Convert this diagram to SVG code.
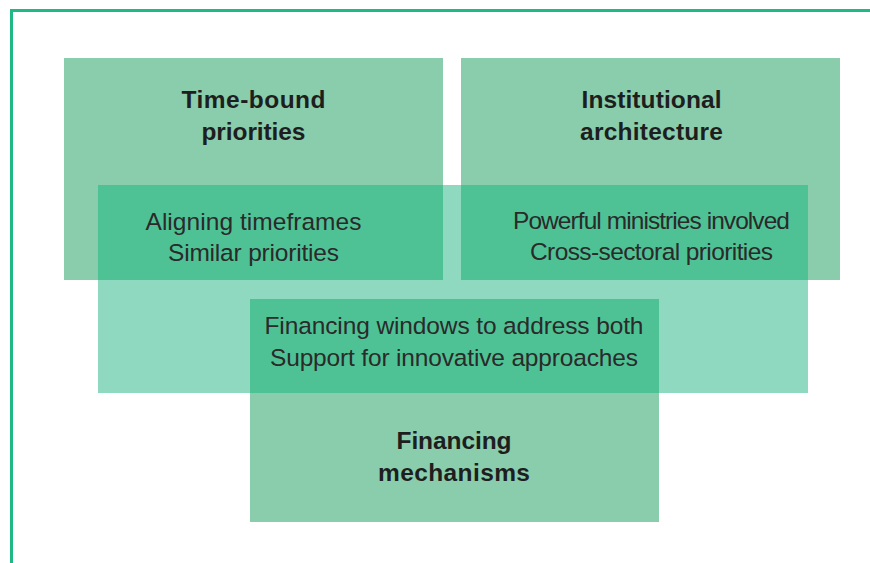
<svg xmlns="http://www.w3.org/2000/svg" width="870" height="563" viewBox="0 0 870 563">
<style>
.box{fill:#89cdac}
.mid{fill:#8ed9bf}
.ov{fill:#4fc295}
.t{font-family:"Liberation Sans",Arial,sans-serif;font-size:24.5px;fill:#2a2a2a;text-anchor:middle}
.b{font-family:"Liberation Sans",Arial,sans-serif;font-size:24.5px;font-weight:bold;fill:#1e1e1e;text-anchor:middle}
</style>
<rect width="870" height="563" fill="#ffffff"/>
<path d="M11.5 563 V10.5 H870" fill="none" stroke="#1fba84" stroke-width="3"/>
<g id="connectors"></g>
<g id="time-bound">
<rect class="box" x="64" y="58" width="379" height="222"/>
<text class="b" x="253.5" y="108" textLength="144" lengthAdjust="spacing">Time-bound</text>
<text class="b" x="253.5" y="140" textLength="104" lengthAdjust="spacing">priorities</text>
</g>
<g id="institutional">
<rect class="box" x="461" y="58" width="379" height="222"/>
<text class="b" x="651.5" y="108" textLength="140" lengthAdjust="spacing">Institutional</text>
<text class="b" x="651.5" y="140" textLength="143" lengthAdjust="spacing">architecture</text>
</g>
<g id="middle">
<rect class="mid" x="98" y="185" width="710" height="208"/>
</g>
<g id="financing">
<rect class="box" x="250" y="299" width="409" height="223"/>
<text class="b" x="454" y="449" textLength="115" lengthAdjust="spacing">Financing</text>
<text class="b" x="454" y="481" textLength="152" lengthAdjust="spacing">mechanisms</text>
</g>
<g id="overlap-left">
<rect class="ov" x="98" y="185" width="345" height="95"/>
<text class="t" x="253.5" y="230" textLength="216" lengthAdjust="spacing">Aligning timeframes</text>
<text class="t" x="253.5" y="261" textLength="171" lengthAdjust="spacing">Similar priorities</text>
</g>
<g id="overlap-right">
<rect class="ov" x="461" y="185" width="347" height="95"/>
<text class="t" x="651.5" y="229" textLength="277" lengthAdjust="spacing">Powerful ministries involved</text>
<text class="t" x="651.5" y="260" textLength="243" lengthAdjust="spacing">Cross-sectoral priorities</text>
</g>
<g id="overlap-bottom">
<rect class="ov" x="250" y="299" width="409" height="94"/>
<text class="t" x="454" y="334" textLength="379" lengthAdjust="spacing">Financing windows to address both</text>
<text class="t" x="454" y="366" textLength="368" lengthAdjust="spacing">Support for innovative approaches</text>
</g>
</svg>
